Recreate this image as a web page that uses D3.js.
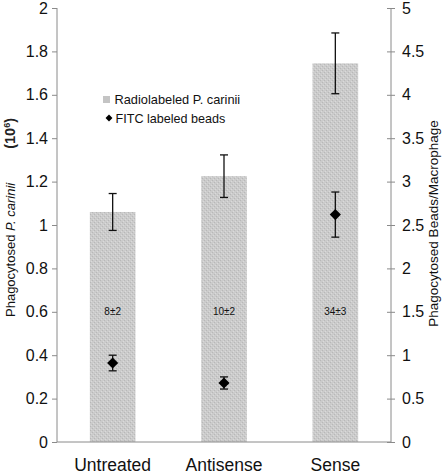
<!DOCTYPE html>
<html><head><meta charset="utf-8">
<script src="https://cdn.jsdelivr.net/npm/d3@7"></script>
<style>body{margin:0;background:#fff}svg{display:block;font-family:"Liberation Sans",Arial,sans-serif}</style>
</head><body><svg id="c" width="443" height="476"></svg>
<script>
const categories = ["Untreated","Antisense","Sense"];
const carinii = [1.06, 1.225, 1.745];
const cariniiErr = [0.085, 0.098, 0.14];
const beads = [0.91, 0.68, 2.62];
const beadsErr = [0.09, 0.07, 0.26];
const barLabels = ["8\u00b12","10\u00b12","34\u00b13"];
const labelLevel = 0.6;
const leftTicks = [0,0.2,0.4,0.6,0.8,1,1.2,1.4,1.6,1.8,2];
const rightTicks = [0,0.5,1,1.5,2,2.5,3,3.5,4,4.5,5];

const svg = d3.select("#c");
const L = 57, R = 391, T = 8, B = 442;
const x = d3.scaleBand().domain(categories).range([L,R]).paddingInner(0.59).paddingOuter(0.295);
const yL = d3.scaleLinear().domain([0,2]).range([B,T]);
const yR = d3.scaleLinear().domain([0,5]).range([B,T]);
const axisCol = "#8a8a8a";

// stipple pattern for bars
const defs = svg.append("defs");
const pat = defs.append("pattern").attr("id","stip").attr("patternUnits","userSpaceOnUse").attr("width",4).attr("height",4);
pat.append("rect").attr("width",4).attr("height",4).attr("fill","#cbcbcb");
pat.append("rect").attr("x",0).attr("y",0).attr("width",1).attr("height",1).attr("fill","#b8b8b8");
pat.append("rect").attr("x",2).attr("y",2).attr("width",1).attr("height",1).attr("fill","#b8b8b8");
pat.append("rect").attr("x",1).attr("y",3).attr("width",1).attr("height",1).attr("fill","#dadada");
pat.append("rect").attr("x",3).attr("y",1).attr("width",1).attr("height",1).attr("fill","#dadada");

// bars
svg.append("g").selectAll("rect").data(categories).join("rect")
  .attr("x", d=>x(d)).attr("width", x.bandwidth())
  .attr("y", (d,i)=>yL(carinii[i])).attr("height",(d,i)=>yL(0)-yL(carinii[i]))
  .attr("fill","url(#stip)");

// axes
const gl = svg.append("g").attr("transform",`translate(${L},0)`)
  .call(d3.axisLeft(yL).tickValues(leftTicks).tickFormat(d3.format("~g")).tickSize(5).tickPadding(4));
const gr = svg.append("g").attr("transform",`translate(${R},0)`)
  .call(d3.axisRight(yR).tickValues(rightTicks).tickFormat(d3.format("~g")).tickSize(4).tickPadding(7));
gr.selectAll(".tick line").attr("x1",-4);
[gl,gr].forEach(g=>{
  g.select(".domain").attr("stroke",axisCol).attr("d", `M0,${T}V${B}`);
  g.selectAll(".tick line").attr("stroke",axisCol);
  g.selectAll(".tick text").attr("fill","#111").style("font-size","16px").style("font-family","Liberation Sans, Arial, sans-serif");
});
// x baseline
svg.append("line").attr("x1",L).attr("x2",R).attr("y1",B).attr("y2",B).attr("stroke",axisCol);

// x labels
svg.append("g").selectAll("text").data(categories).join("text")
  .attr("x", d=>x(d)+x.bandwidth()/2).attr("y",471).attr("text-anchor","middle")
  .style("font-size","17.5px").attr("fill","#111").text(d=>d);

// error bars
const eb = svg.append("g").attr("stroke","#111").attr("stroke-width",1.3);
categories.forEach((c,i)=>{
  const cx = x(c)+x.bandwidth()/2;
  const t = yL(carinii[i]+cariniiErr[i]), b = yL(carinii[i]-cariniiErr[i]);
  eb.append("line").attr("x1",cx).attr("x2",cx).attr("y1",t).attr("y2",b);
  eb.append("line").attr("x1",cx-4).attr("x2",cx+4).attr("y1",t).attr("y2",t);
  eb.append("line").attr("x1",cx-4).attr("x2",cx+4).attr("y1",b).attr("y2",b);
  const t2 = yR(beads[i]+beadsErr[i]), b2 = yR(beads[i]-beadsErr[i]);
  eb.append("line").attr("x1",cx).attr("x2",cx).attr("y1",t2).attr("y2",b2);
  eb.append("line").attr("x1",cx-4).attr("x2",cx+4).attr("y1",t2).attr("y2",t2);
  eb.append("line").attr("x1",cx-4).attr("x2",cx+4).attr("y1",b2).attr("y2",b2);
});
// diamonds
const diamond = d3.symbol().type(d3.symbolSquare).size(62);
svg.append("g").selectAll("path").data(categories).join("path")
  .attr("d", diamond)
  .attr("transform",(d,i)=>`translate(${x(d)+x.bandwidth()/2},${yR(beads[i])}) rotate(45)`)
  .attr("fill","#000");

// bar labels
svg.append("g").selectAll("text").data(categories).join("text")
  .attr("x", d=>x(d)+x.bandwidth()/2).attr("y", yL(labelLevel)).attr("dy","0.35em")
  .attr("text-anchor","middle").style("font-size","10px").attr("fill","#111")
  .text((d,i)=>barLabels[i]);

// legend
const lg = svg.append("g");
lg.append("rect").attr("x",103).attr("y",96).attr("width",7).attr("height",7).attr("fill","#c4c4c4");
lg.append("text").attr("x",114.5).attr("y",104).style("font-size","12.8px").attr("fill","#111").text("Radiolabeled P. carinii");
lg.append("path").attr("d", d3.symbol().type(d3.symbolSquare).size(24)).attr("transform","translate(109,118) rotate(45)").attr("fill","#000");
lg.append("text").attr("x",115.5).attr("y",122.5).style("font-size","12.6px").attr("fill","#111").text("FITC labeled beads");

// axis titles
const lt = svg.append("text").attr("transform","translate(15,317) rotate(-90)")
  .style("font-size","13px").attr("fill","#111");
lt.append("tspan").text("Phagocytosed ");
lt.append("tspan").attr("font-style","italic").text("P. carinii");
const lt2 = svg.append("text").attr("transform","translate(15,118) rotate(-90)").attr("text-anchor","end")
  .style("font-size","14.5px").attr("font-weight","bold").attr("fill","#222");
lt2.append("tspan").text("(10");
lt2.append("tspan").attr("dy","-5").style("font-size","9px").text("6");
lt2.append("tspan").attr("dy","5").text(")");
svg.append("text").attr("transform","translate(438,223.5) rotate(-90)").attr("text-anchor","middle")
  .style("font-size","13.5px").attr("fill","#111").text("Phagocytosed Beads/Macrophage");
</script></body></html>
